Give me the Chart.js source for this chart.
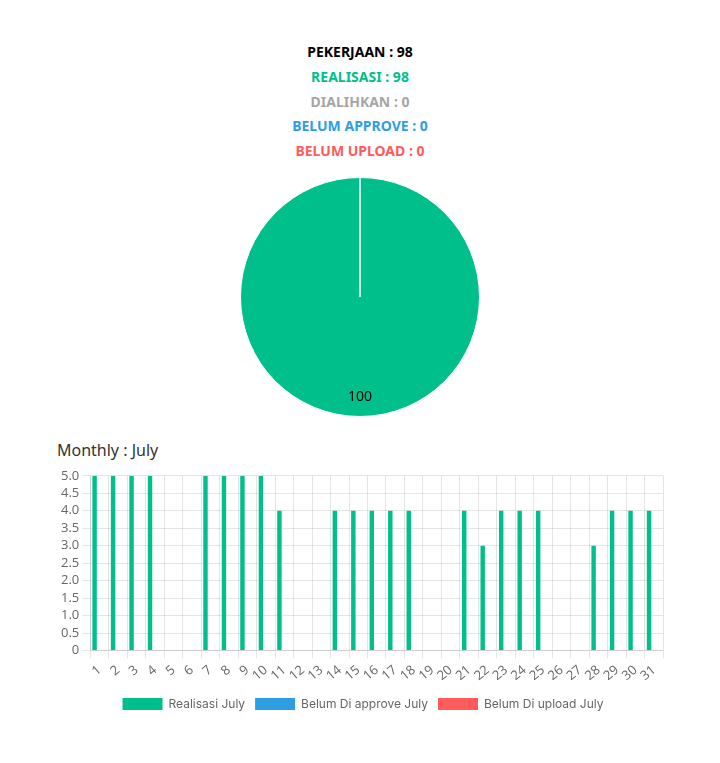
<!DOCTYPE html>
<html>
<head>
<meta charset="utf-8">
<script src="https://cdn.jsdelivr.net/npm/chart.js@4/dist/chart.umd.min.js"></script>
<style>
    body { margin: 0; background: #fff; font-family: "Noto Sans", sans-serif; }
    .summary { position: absolute; top: 40px; left: 0; width: 720px; text-align: center; }
    .summary div { font-weight: bold; font-size: 14px; height: 24.8px; line-height: 24.8px; }
    #pieWrap { position: absolute; top: 177px; left: 0; width: 720px; height: 240px; }
    .monthly { position: absolute; top: 439px; left: 57px; font-size: 16px; color: #333; }
    #barWrap { position: absolute; top: 465px; left: 58px; width: 610px; height: 255px; }
</style>
</head>
<body>
<div class="summary" id="summary"></div>
<div id="pieWrap"><canvas id="pie"></canvas></div>
<div class="monthly">Monthly : July</div>
<div id="barWrap"><canvas id="bar"></canvas></div>
<script>
const summaryLabels = ['PEKERJAAN', 'REALISASI', 'DIALIHKAN', 'BELUM APPROVE', 'BELUM UPLOAD'];
const summaryValues = [98, 98, 0, 0, 0];
const summaryColors = ['#000000', '#00bf8a', '#a6a6a6', '#2f9ee0', '#ff5b5b'];

const pieLabels = ['Realisasi', 'Dialihkan', 'Belum Approve', 'Belum Upload'];
const pieValues = [98, 0, 0, 0];
const pieColors = ['#00bf8a', '#a6a6a6', '#2f9ee0', '#ff5b5b'];

const days = Array.from({ length: 31 }, (_, i) => String(i + 1));
const realisasiJuly = [5, 5, 5, 5, 0, 0, 5, 5, 5, 5, 4, 0, 0, 4, 4, 4, 4, 4, 0, 0, 4, 3, 4, 4, 4, 0, 0, 3, 4, 4, 4];
const belumApproveJuly = [0, 0, 0, 0, 0, 0, 0, 0, 0, 0, 0, 0, 0, 0, 0, 0, 0, 0, 0, 0, 0, 0, 0, 0, 0, 0, 0, 0, 0, 0, 0];
const belumUploadJuly = [0, 0, 0, 0, 0, 0, 0, 0, 0, 0, 0, 0, 0, 0, 0, 0, 0, 0, 0, 0, 0, 0, 0, 0, 0, 0, 0, 0, 0, 0, 0];

const summary = document.getElementById('summary');
summaryLabels.forEach((label, i) => {
    const row = document.createElement('div');
    row.style.color = summaryColors[i];
    row.textContent = label + ' : ' + summaryValues[i];
    summary.appendChild(row);
});

// percentage labels inside slices
const pieLabelPlugin = {
    id: 'pieLabel',
    afterDatasetsDraw(chart) {
        const ctx = chart.ctx;
        const data = chart.data.datasets[0].data;
        const total = data.reduce((a, b) => a + b, 0);
        chart.getDatasetMeta(0).data.forEach((arc, i) => {
            if (!data[i]) return;
            const angle = (arc.startAngle + arc.endAngle) / 2;
            const r = arc.outerRadius * 0.83;
            ctx.save();
            ctx.fillStyle = '#000';
            ctx.font = '14px "Noto Sans"';
            ctx.textAlign = 'center';
            ctx.textBaseline = 'middle';
            ctx.fillText(Math.round(data[i] / total * 100), arc.x + Math.cos(angle) * r, arc.y + Math.sin(angle) * r + 1);
            ctx.restore();
        });
    }
};

new Chart(document.getElementById('pie'), {
    type: 'pie',
    data: {
        labels: pieLabels,
        datasets: [{
            data: pieValues,
            backgroundColor: pieColors,
            borderColor: '#fff',
            borderWidth: 1
        }]
    },
    options: {
        responsive: true,
        maintainAspectRatio: false,
        animation: false,
        layout: { padding: 0 },
        plugins: {
            legend: { display: false },
            tooltip: { enabled: false }
        }
    },
    plugins: [pieLabelPlugin]
});

new Chart(document.getElementById('bar'), {
    type: 'bar',
    data: {
        labels: days,
        datasets: [{
            label: 'Realisasi July',
            data: realisasiJuly,
            backgroundColor: '#00bf8a'
        }, {
            label: 'Belum Di approve July',
            data: belumApproveJuly,
            backgroundColor: '#2f9ee0'
        }, {
            label: 'Belum Di upload July',
            data: belumUploadJuly,
            backgroundColor: '#ff5b5b'
        }]
    },
    options: {
        responsive: true,
        maintainAspectRatio: false,
        animation: false,
        scales: {
            x: {
                grid: { color: 'rgba(0,0,0,0.1)' },
                ticks: {
                    color: '#666',
                    font: { family: 'Open Sans', size: 13 },
                    minRotation: 40,
                    maxRotation: 40,
                    padding: 4,
                    autoSkip: false
                }
            },
            y: {
                min: 0,
                max: 5,
                grid: { color: 'rgba(0,0,0,0.1)' },
                ticks: {
                    stepSize: 0.5,
                    autoSkip: false,
                    color: '#666',
                    font: { family: 'Open Sans', size: 13 },
                    callback: v => v === 0 ? '0' : v.toFixed(1)
                }
            }
        },
        plugins: {
            legend: {
                position: 'bottom',
                labels: {
                    color: '#666',
                    font: { family: 'Inter', size: 12 },
                    boxWidth: 40,
                    boxHeight: 12,
                    padding: 10
                }
            },
            tooltip: { enabled: false }
        }
    }
});
</script>
</body>
</html>
